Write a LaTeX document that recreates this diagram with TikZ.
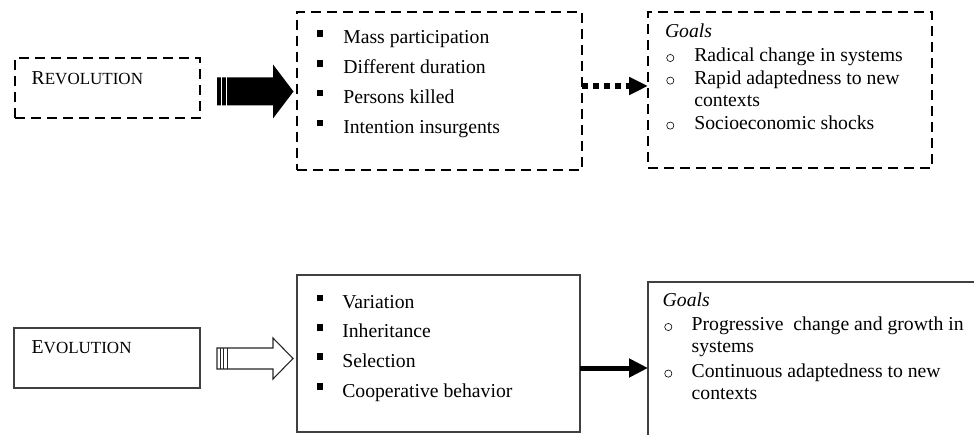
\documentclass[tikz,border=0pt]{standalone}
\usepackage{fontspec}
\setmainfont{Liberation Serif}
\usetikzlibrary{arrows.meta}
\newcommand\sqbul[2]{\fill (#1-3.1,#2-3.1) rectangle (#1+3.1,#2+3.1);}
\newcommand\cibul[2]{\draw[line width=0.6pt] (#1,#2) circle (3.6);}
\begin{document}
\begin{tikzpicture}[x=1pt,y=-1pt,
  dbox/.style={draw, line width=2.6pt, dash pattern=on 10pt off 6pt, inner sep=0, outer sep=0, anchor=north west},
  sbox/.style={draw=black!75, line width=1.4pt, inner sep=0, outer sep=0, anchor=north west},
  txt/.style={anchor=base west, inner sep=0, outer sep=0, font=\fontsize{19.7}{22}\selectfont},
]
\useasboundingbox (0,0) rectangle (974,435);
\clip (0,0) rectangle (974,435);

% ---------- Revolution row ----------
\node[dbox, minimum width=185pt, minimum height=60pt] (rev) at (15,58) {};
\node[txt] (revt) at (31.7,85) {R{\fontsize{17}{22}\selectfont EVOLUTION}};

\node[dbox, minimum width=285pt, minimum height=158pt] (midtop) at (297,12) {};
\sqbul{320.3}{33.5}
\node[txt] (m1) at (343.3,44) {Mass participation};
\sqbul{320.3}{63.5}
\node[txt] (m2) at (343.3,74) {Different duration};
\sqbul{320.3}{93}
\node[txt] (m3) at (343.3,103.5) {Persons killed};
\sqbul{320.3}{123}
\node[txt] (m4) at (343.3,133.5) {Intention insurgents};

\node[dbox, minimum width=284pt, minimum height=156pt] (goaltop) at (648,12) {};
\node[txt] (g0) at (665,37.3) {\itshape Goals};
\cibul{670.3}{58}
\node[txt] (g1) at (694.3,61.7) {Radical change in systems};
\cibul{670.3}{80.6}
\node[txt] (g2) at (694.3,84.3) {Rapid adaptedness to new};
\node[txt] (g3) at (694.3,106.7) {contexts};
\cibul{670.3}{125.6}
\node[txt] (g4) at (694.3,129.3) {Socioeconomic shocks};

% black block arrow
\fill (217,77.5) -- (273,77.5) -- (273,64.5) -- (293.5,91.5) -- (273,118.5) -- (273,105.5) -- (217,105.5) -- cycle;
\draw[white, line width=1pt] (221.5,77) -- (221.5,106) (226,77) -- (226,106);

% dotted arrow
\draw[line width=5.5pt, dash pattern=on 5.5pt off 5.5pt, -{Triangle[length=19pt,width=17pt]}]
  ([yshift=5pt]midtop.east) -- ([yshift=5pt]midtop.east -| goaltop.west);

% ---------- Evolution row ----------
\node[sbox, minimum width=186pt, minimum height=60pt] (evo) at (14,328) {};
\node[txt] (evot) at (31.7,354) {E{\fontsize{17}{22}\selectfont VOLUTION}};

\node[sbox, minimum width=283pt, minimum height=157pt] (midbot) at (297,275) {};
\sqbul{319.7}{298}
\node[txt] (b1) at (342.3,308.3) {Variation};
\sqbul{319.7}{327.5}
\node[txt] (b2) at (342.3,337.5) {Inheritance};
\sqbul{319.7}{356.5}
\node[txt] (b3) at (342.3,367) {Selection};
\sqbul{319.7}{386.5}
\node[txt] (b4) at (342.3,397) {Cooperative behavior};

\node[sbox, minimum width=340pt, minimum height=170pt] (goalbot) at (648,282) {};
\node[txt] (h0) at (662.7,306.7) {\itshape Goals};
\cibul{668.3}{327}
\node[txt] (h1) at (691.7,330.7) {Progressive\ \ change and growth in};
\node[txt] (h2) at (691.7,352.7) {systems};
\cibul{668.3}{373.6}
\node[txt] (h3) at (691.7,377.3) {Continuous adaptedness to new};
\node[txt] (h4) at (691.7,399.3) {contexts};

% hollow block arrow
\draw[line width=1.1pt, black!85, line join=miter, fill=white]
  (217,348) -- (273,348) -- (273,338) -- (293,358.5) -- (273,379) -- (273,369) -- (217,369) -- cycle;
\draw[line width=1pt, black!85] (220.5,348) -- (220.5,369) (223.5,348) -- (223.5,369) (227,348) -- (227,369);

% solid arrow
\draw[line width=5pt, -{Triangle[length=19pt,width=18pt]}]
  ([yshift=-14.5pt]midbot.east) -- ([yshift=-14.5pt]midbot.east -| goalbot.west);
\end{tikzpicture}
\end{document}
